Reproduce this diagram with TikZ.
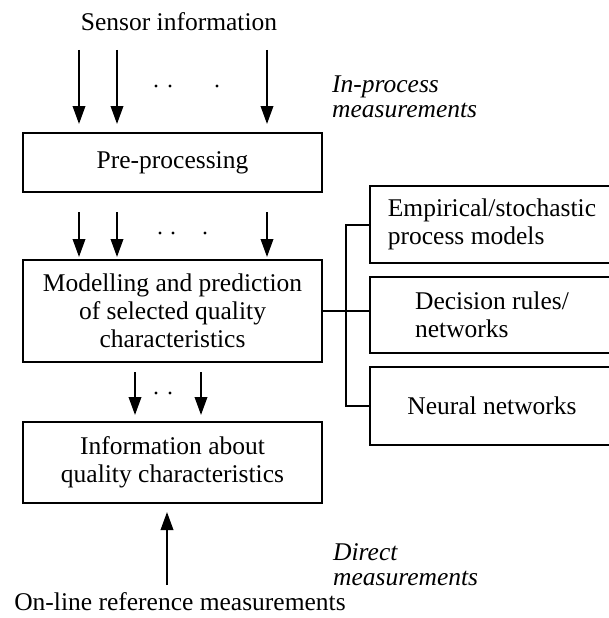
\documentclass[tikz,border=0pt]{standalone}
\usepackage{fontspec}
\setmainfont{Liberation Serif}
\usetikzlibrary{arrows.meta}

\tikzset{
  blk/.style={draw,line width=2.2pt,inner sep=0pt,outer sep=0pt,align=center,font=\fontsize{25.5}{28}\selectfont},
  txt/.style={inner sep=0pt,font=\fontsize{25.5}{28}\selectfont},
  note/.style={inner sep=0pt,anchor=west,align=left,font=\fontsize{25.5}{25}\selectfont\itshape},
  arr/.style={line width=2pt,-{Triangle[length=18pt,width=12.5pt]}},
  lnk/.style={line width=2pt},
}

\begin{document}
\begin{tikzpicture}[x=1pt,y=-1pt]
  \useasboundingbox (0,0) rectangle (609,618);
  % main chain
  \node[txt] (sensor) at (179,22) {Sensor information};
  \node[blk,minimum width=299,minimum height=59] (pre) at (172.5,162.5) {Pre-processing};
  \node[blk,minimum width=299,minimum height=102] (model) at (172.5,311) {Modelling and prediction\\of selected quality\\characteristics};
  \node[blk,minimum width=299,minimum height=81] (info) at (172.5,462.5) {Information about\\quality characteristics};
  \node[txt] (online) at (180,602) {On-line reference measurements};
  \node[note] (inproc) at (332,97) {In-process\\measurements};
  \node[note] (direct) at (333,565) {Direct\\measurements};
  % method boxes (cut at the right)
  \node[blk,align=left,minimum width=244,minimum height=77] (emp) at (492,224.5) {Empirical/stochastic\\process models};
  \node[blk,align=left,minimum width=244,minimum height=76] (dec) at (492,315) {Decision rules/\\networks};
  \node[blk,minimum width=244,minimum height=78] (neu) at (492,406) {Neural networks};

  \coordinate (in1) at (79,50);
  \coordinate (in2) at (117,50);
  \coordinate (in3) at (267,50);
  \coordinate (out1) at (135,0);
  \coordinate (out2) at (201,0);
  \coordinate (ref) at (167,585);
  \coordinate (bus) at (346,0);

  \foreach \c in {in1,in2,in3}{
    \draw[arr,shorten >=9pt] (\c) -- (\c |- pre.north);
    \draw[arr,shorten <=20pt,shorten >=3pt] (\c |- pre.south) -- (\c |- model.north);
  }
  \foreach \c in {out1,out2}
    \draw[arr,shorten <=10pt,shorten >=7pt] (\c |- model.south) -- (\c |- info.north);
  \draw[arr,shorten >=9pt] (ref) -- (ref |- info.south);

  \foreach \x/\y in {156/86,170/86,217/86,160/233,173/233,205/233,156/393,170/393}
    \fill (\x,\y) circle (1.7);

  \draw[lnk] (emp.west) -| (bus |- neu.west) -- (neu.west);
  \draw[lnk] (model.east) -- (model.east -| dec.west);
\end{tikzpicture}
\end{document}
